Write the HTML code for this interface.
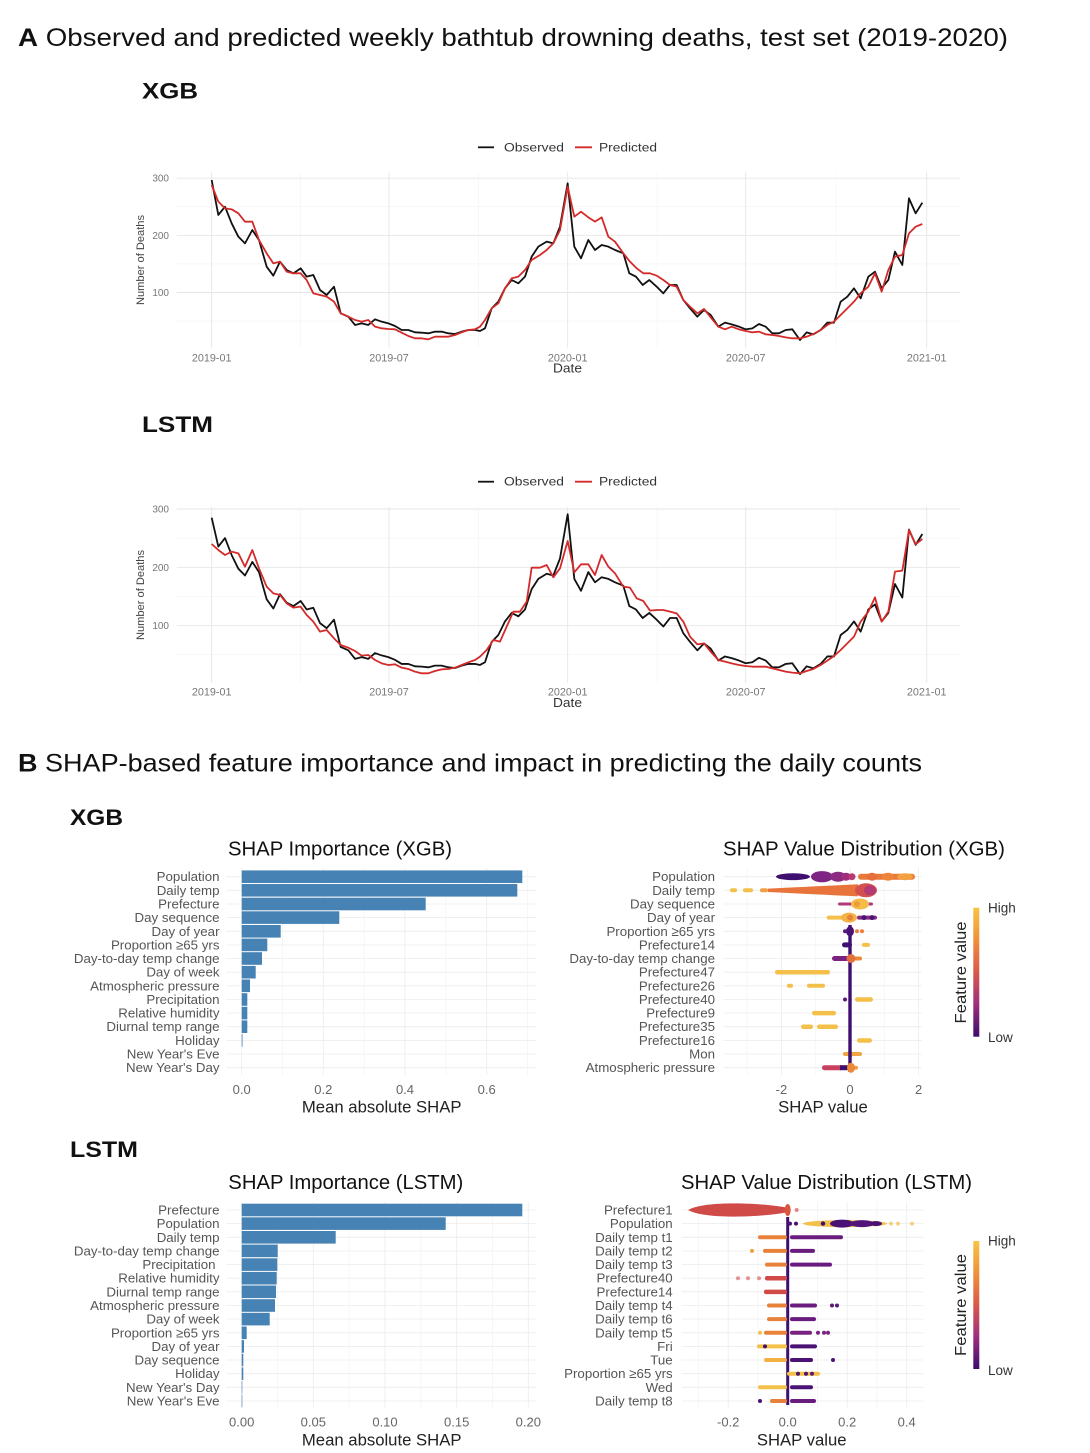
<!DOCTYPE html>
<html><head><meta charset="utf-8"><style>
html,body{margin:0;padding:0;background:#fff;}
svg{display:block;}
text{font-family:"Liberation Sans",Arial,sans-serif;}
</style></head><body>
<svg width="1090" height="1453" viewBox="0 0 1090 1453" xmlns="http://www.w3.org/2000/svg">
<defs>
<linearGradient id="cb" x1="0" y1="0" x2="0" y2="1">
<stop offset="0" stop-color="#f6c445"/><stop offset="0.25" stop-color="#f0903a"/><stop offset="0.5" stop-color="#d9594c"/><stop offset="0.75" stop-color="#9c2f7e"/><stop offset="1" stop-color="#3c0c6c"/>
</linearGradient>
</defs>
<rect width="1090" height="1453" fill="#fff"/>

<!-- ============ PART A ============ -->
<text x="18" y="46" font-size="25" fill="#111" textLength="990" lengthAdjust="spacingAndGlyphs"><tspan font-weight="bold">A</tspan> Observed and predicted weekly bathtub drowning deaths, test set (2019-2020)</text>
<text x="142" y="98.3" font-size="22" font-weight="bold" fill="#111" textLength="56" lengthAdjust="spacingAndGlyphs">XGB</text>

<!-- XGB chart grid -->
<g stroke="#f3f3f3" stroke-width="0.6">
<line x1="176.7" y1="206.8" x2="960" y2="206.8"/><line x1="176.7" y1="263.9" x2="960" y2="263.9"/><line x1="176.7" y1="321.1" x2="960" y2="321.1"/>
<line x1="300.3" y1="171.7" x2="300.3" y2="348.3"/><line x1="478.3" y1="171.7" x2="478.3" y2="348.3"/><line x1="657" y1="171.7" x2="657" y2="348.3"/><line x1="836" y1="171.7" x2="836" y2="348.3"/>
</g>
<g stroke="#e6e6e6" stroke-width="0.9">
<line x1="176.7" y1="178.2" x2="960" y2="178.2"/><line x1="176.7" y1="235.3" x2="960" y2="235.3"/><line x1="176.7" y1="292.5" x2="960" y2="292.5"/>
<line x1="211.7" y1="171.7" x2="211.7" y2="348.3"/><line x1="389" y1="171.7" x2="389" y2="348.3"/><line x1="567.7" y1="171.7" x2="567.7" y2="348.3"/><line x1="745.7" y1="171.7" x2="745.7" y2="348.3"/><line x1="926.7" y1="171.7" x2="926.7" y2="348.3"/>
</g>
<g font-size="10" fill="#777" text-anchor="end">
<text x="169" y="181.7">300</text><text x="169" y="238.8">200</text><text x="169" y="296">100</text>
</g>
<g font-size="10.8" fill="#777" text-anchor="middle">
<text x="211.7" y="361.5">2019-01</text><text x="389" y="361.5">2019-07</text><text x="567.7" y="361.5">2020-01</text><text x="745.7" y="361.5">2020-07</text><text x="926.7" y="361.5">2021-01</text>
</g>
<text x="553" y="372.5" font-size="12.5" fill="#333" textLength="29" lengthAdjust="spacingAndGlyphs">Date</text>
<text transform="translate(144,260) rotate(-90)" text-anchor="middle" font-size="11.1" fill="#444">Number of Deaths</text>
<!-- legend -->
<line x1="478" y1="147.3" x2="494" y2="147.3" stroke="#111" stroke-width="1.8"/>
<text x="504" y="151.3" font-size="11.5" fill="#333" textLength="60" lengthAdjust="spacingAndGlyphs">Observed</text>
<line x1="575" y1="147.3" x2="592" y2="147.3" stroke="#d42a2a" stroke-width="1.8"/>
<text x="599" y="151.3" font-size="11.5" fill="#333" textLength="58" lengthAdjust="spacingAndGlyphs">Predicted</text>

<g transform="translate(130,130) scale(0.33333)" fill="none" stroke-linejoin="round">
<polyline vector-effect="non-scaling-stroke" stroke="#111" stroke-width="1.8" points="245,150 265,255 285,230 305,280 325,320 345,340 367,300 387,330 410,410 430,437 450,395 470,420 490,430 512,415 530,440 550,435 570,480 590,495 612,470 632,550 655,560 675,585 695,580 715,585 735,568 755,575 775,580 795,588 815,600 835,600 855,607 875,608 895,610 915,605 935,605 955,610 975,612 995,605 1015,600 1035,600 1050,603 1065,595 1085,535 1105,515 1125,475 1145,450 1165,460 1185,440 1205,380 1225,350 1250,335 1270,340 1290,290 1313,160 1333,350 1353,385 1375,330 1395,360 1415,345 1435,350 1455,360 1480,370 1498,430 1518,440 1538,465 1558,450 1580,470 1600,490 1620,465 1640,465 1660,510 1680,535 1702,560 1722,540 1742,555 1765,590 1785,578 1805,583 1827,590 1847,598 1867,595 1887,582 1907,590 1927,610 1947,610 1967,600 1987,598 2010,630 2030,607 2050,613 2072,600 2092,578 2112,578 2132,515 2152,500 2172,475 2192,505 2215,440 2235,425 2255,475 2275,450 2295,365 2317,405 2337,205 2357,250 2377,218"/>
<polyline vector-effect="non-scaling-stroke" stroke="#d42a2a" stroke-width="1.8" points="245,165 265,215 285,235 305,238 325,250 345,275 367,275 387,330 410,370 430,400 450,395 470,425 490,430 512,430 530,450 550,490 570,495 590,500 612,515 632,550 655,560 675,570 695,575 715,570 735,590 755,595 775,597 795,598 815,608 835,618 855,625 875,625 895,628 915,620 935,620 955,620 975,615 995,607 1015,600 1035,598 1050,590 1065,570 1085,535 1105,520 1125,475 1145,445 1165,440 1185,420 1205,390 1230,375 1250,360 1270,340 1290,300 1313,170 1333,260 1353,245 1375,262 1395,275 1415,262 1435,320 1455,335 1480,370 1500,395 1520,415 1540,430 1560,430 1580,437 1600,450 1620,465 1640,470 1660,510 1680,530 1702,550 1722,537 1742,562 1765,590 1785,598 1805,590 1827,598 1847,603 1867,607 1887,605 1907,613 1927,615 1947,618 1967,622 1987,625 2010,625 2030,620 2050,612 2072,600 2092,585 2112,575 2132,555 2152,535 2172,515 2192,490 2215,470 2235,430 2255,485 2275,420 2295,380 2317,375 2337,310 2357,290 2377,282"/>
</g>

<!-- LSTM chart -->
<text x="142" y="432" font-size="22" font-weight="bold" fill="#111" textLength="71" lengthAdjust="spacingAndGlyphs">LSTM</text>
<g stroke="#f3f3f3" stroke-width="0.6">
<line x1="176.7" y1="538.2" x2="960" y2="538.2"/><line x1="176.7" y1="596.5" x2="960" y2="596.5"/><line x1="176.7" y1="654.8" x2="960" y2="654.8"/>
<line x1="300.3" y1="506.7" x2="300.3" y2="683"/><line x1="478.3" y1="506.7" x2="478.3" y2="683"/><line x1="657" y1="506.7" x2="657" y2="683"/><line x1="836" y1="506.7" x2="836" y2="683"/>
</g>
<g stroke="#e6e6e6" stroke-width="0.9">
<line x1="176.7" y1="509" x2="960" y2="509"/><line x1="176.7" y1="567.3" x2="960" y2="567.3"/><line x1="176.7" y1="625.7" x2="960" y2="625.7"/>
<line x1="211.7" y1="506.7" x2="211.7" y2="683"/><line x1="389" y1="506.7" x2="389" y2="683"/><line x1="567.7" y1="506.7" x2="567.7" y2="683"/><line x1="745.7" y1="506.7" x2="745.7" y2="683"/><line x1="926.7" y1="506.7" x2="926.7" y2="683"/>
</g>
<g font-size="10" fill="#777" text-anchor="end">
<text x="169" y="512.5">300</text><text x="169" y="570.8">200</text><text x="169" y="629.2">100</text>
</g>
<g font-size="10.8" fill="#777" text-anchor="middle">
<text x="211.7" y="695.5">2019-01</text><text x="389" y="695.5">2019-07</text><text x="567.7" y="695.5">2020-01</text><text x="745.7" y="695.5">2020-07</text><text x="926.7" y="695.5">2021-01</text>
</g>
<text x="553" y="707" font-size="12.5" fill="#333" textLength="29" lengthAdjust="spacingAndGlyphs">Date</text>
<text transform="translate(144,595) rotate(-90)" text-anchor="middle" font-size="11.1" fill="#444">Number of Deaths</text>
<line x1="478" y1="481.7" x2="494" y2="481.7" stroke="#111" stroke-width="1.8"/>
<text x="504" y="485.7" font-size="11.5" fill="#333" textLength="60" lengthAdjust="spacingAndGlyphs">Observed</text>
<line x1="575" y1="481.7" x2="592" y2="481.7" stroke="#d42a2a" stroke-width="1.8"/>
<text x="599" y="485.7" font-size="11.5" fill="#333" textLength="58" lengthAdjust="spacingAndGlyphs">Predicted</text>

<g transform="translate(130,459.85) scale(0.33333,0.34013)" fill="none" stroke-linejoin="round">
<polyline vector-effect="non-scaling-stroke" stroke="#111" stroke-width="1.8" points="245,170 265,255 285,230 305,280 325,320 345,340 367,300 387,330 410,410 430,437 450,395 470,420 490,430 512,415 530,440 550,435 570,480 590,495 612,470 632,550 655,560 675,585 695,580 715,585 735,568 755,575 775,580 795,588 815,600 835,600 855,607 875,608 895,610 915,605 935,605 955,610 975,612 995,605 1015,600 1035,600 1050,603 1065,595 1085,535 1105,515 1125,475 1145,450 1165,460 1185,440 1205,380 1225,350 1250,335 1270,340 1290,290 1313,160 1333,350 1353,385 1375,330 1395,360 1415,345 1435,350 1455,360 1480,370 1498,430 1518,440 1538,465 1558,450 1580,470 1600,490 1620,465 1640,465 1660,510 1680,535 1702,560 1722,540 1742,555 1765,590 1785,578 1805,583 1827,590 1847,598 1867,595 1887,582 1907,590 1927,610 1947,610 1967,600 1987,598 2010,630 2030,607 2050,613 2072,600 2092,578 2112,578 2132,515 2152,500 2172,475 2192,505 2215,440 2235,425 2255,475 2275,450 2295,365 2317,405 2337,205 2357,250 2377,218"/>
</g>
<g transform="translate(130,465) scale(0.33333)" fill="none" stroke-linejoin="round">
<polyline vector-effect="non-scaling-stroke" stroke="#d42a2a" stroke-width="1.8" points="245,237 265,255 285,270 305,260 325,265 345,305 367,255 387,310 410,365 430,385 450,390 470,415 490,428 512,425 530,450 550,470 570,500 590,495 612,520 632,540 655,548 675,558 695,572 715,570 735,585 755,595 775,600 795,598 815,608 835,612 855,620 875,625 895,625 915,618 935,613 955,612 975,608 995,600 1015,592 1035,585 1050,575 1070,555 1090,525 1110,530 1130,485 1150,440 1170,440 1190,410 1205,308 1230,308 1250,300 1270,337 1290,310 1313,228 1333,322 1353,298 1375,298 1395,330 1415,270 1435,305 1455,325 1480,365 1500,368 1520,400 1540,408 1560,437 1580,435 1600,435 1620,440 1640,445 1660,470 1680,515 1702,538 1722,535 1742,560 1765,585 1785,590 1805,595 1827,600 1847,603 1867,605 1887,605 1907,605 1927,610 1947,615 1967,620 1987,623 2010,625 2030,618 2050,612 2072,600 2092,587 2112,573 2132,555 2152,535 2172,515 2192,470 2215,440 2235,397 2255,470 2275,440 2295,320 2317,317 2337,195 2357,238 2377,222"/>
</g>

<!-- ============ PART B ============ -->
<text x="18" y="771.7" font-size="25" fill="#111" textLength="904" lengthAdjust="spacingAndGlyphs"><tspan font-weight="bold">B</tspan> SHAP-based feature importance and impact in predicting the daily counts</text>
<text x="70" y="825" font-size="22" font-weight="bold" fill="#111" textLength="53" lengthAdjust="spacingAndGlyphs">XGB</text>

<!-- XGB bar chart -->
<text x="228" y="855.5" font-size="20" fill="#111" textLength="224" lengthAdjust="spacingAndGlyphs">SHAP Importance (XGB)</text>
<g stroke="#ececec" stroke-width="0.8">
<line x1="226.7" y1="876.7" x2="536.7" y2="876.7"/><line x1="226.7" y1="890.3" x2="536.7" y2="890.3"/><line x1="226.7" y1="904" x2="536.7" y2="904"/><line x1="226.7" y1="917.6" x2="536.7" y2="917.6"/><line x1="226.7" y1="931.3" x2="536.7" y2="931.3"/><line x1="226.7" y1="944.9" x2="536.7" y2="944.9"/><line x1="226.7" y1="958.5" x2="536.7" y2="958.5"/><line x1="226.7" y1="972.2" x2="536.7" y2="972.2"/><line x1="226.7" y1="985.8" x2="536.7" y2="985.8"/><line x1="226.7" y1="999.5" x2="536.7" y2="999.5"/><line x1="226.7" y1="1013.1" x2="536.7" y2="1013.1"/><line x1="226.7" y1="1026.7" x2="536.7" y2="1026.7"/><line x1="226.7" y1="1040.4" x2="536.7" y2="1040.4"/><line x1="226.7" y1="1054" x2="536.7" y2="1054"/><line x1="226.7" y1="1067.7" x2="536.7" y2="1067.7"/>
<line x1="241.7" y1="868" x2="241.7" y2="1075"/><line x1="282.5" y1="868" x2="282.5" y2="1075" stroke="#f4f4f4"/><line x1="323.3" y1="868" x2="323.3" y2="1075"/><line x1="364.2" y1="868" x2="364.2" y2="1075" stroke="#f4f4f4"/><line x1="405" y1="868" x2="405" y2="1075"/><line x1="445.8" y1="868" x2="445.8" y2="1075" stroke="#f4f4f4"/><line x1="486.7" y1="868" x2="486.7" y2="1075"/><line x1="527.5" y1="868" x2="527.5" y2="1075" stroke="#f4f4f4"/>
</g>
<g fill="#4682b4">
<rect x="241.7" y="870.4" width="280.6" height="12.6"/><rect x="241.7" y="884" width="275.6" height="12.6"/><rect x="241.7" y="897.7" width="184" height="12.6"/><rect x="241.7" y="911.3" width="97.6" height="12.6"/><rect x="241.7" y="925" width="39" height="12.6"/><rect x="241.7" y="938.6" width="25.6" height="12.6"/><rect x="241.7" y="952.2" width="20.3" height="12.6"/><rect x="241.7" y="965.9" width="14" height="12.6"/><rect x="241.7" y="979.5" width="8.3" height="12.6"/><rect x="241.7" y="993.2" width="5.6" height="12.6"/><rect x="241.7" y="1006.8" width="5.6" height="12.6"/><rect x="241.7" y="1020.4" width="5.6" height="12.6"/><rect x="241.7" y="1034.1" width="0.8" height="12.6"/>
</g>
<g font-size="13.3" fill="#555" text-anchor="end">
<text x="219.5" y="881.2">Population</text><text x="219.5" y="894.8">Daily temp</text><text x="219.5" y="908.5">Prefecture</text><text x="219.5" y="922.1">Day sequence</text><text x="219.5" y="935.8">Day of year</text><text x="219.5" y="949.4">Proportion ≥65 yrs</text><text x="219.5" y="963">Day-to-day temp change</text><text x="219.5" y="976.7">Day of week</text><text x="219.5" y="990.3">Atmospheric pressure</text><text x="219.5" y="1004">Precipitation</text><text x="219.5" y="1017.6">Relative humidity</text><text x="219.5" y="1031.2">Diurnal temp range</text><text x="219.5" y="1044.9">Holiday</text><text x="219.5" y="1058.5">New Year's Eve</text><text x="219.5" y="1072.2">New Year's Day</text>
</g>
<g font-size="13" fill="#666" text-anchor="middle">
<text x="241.7" y="1094">0.0</text><text x="323.3" y="1094">0.2</text><text x="405" y="1094">0.4</text><text x="486.7" y="1094">0.6</text>
</g>
<text x="381.7" y="1112.5" font-size="16.7" fill="#222" text-anchor="middle">Mean absolute SHAP</text>

<!-- XGB beeswarm -->
<text x="723" y="855.5" font-size="20" fill="#111" textLength="282" lengthAdjust="spacingAndGlyphs">SHAP Value Distribution (XGB)</text>
<g stroke="#ececec" stroke-width="0.8">
<line x1="723.3" y1="876.7" x2="921.7" y2="876.7"/><line x1="723.3" y1="890.3" x2="921.7" y2="890.3"/><line x1="723.3" y1="904" x2="921.7" y2="904"/><line x1="723.3" y1="917.6" x2="921.7" y2="917.6"/><line x1="723.3" y1="931.3" x2="921.7" y2="931.3"/><line x1="723.3" y1="944.9" x2="921.7" y2="944.9"/><line x1="723.3" y1="958.5" x2="921.7" y2="958.5"/><line x1="723.3" y1="972.2" x2="921.7" y2="972.2"/><line x1="723.3" y1="985.8" x2="921.7" y2="985.8"/><line x1="723.3" y1="999.5" x2="921.7" y2="999.5"/><line x1="723.3" y1="1013.1" x2="921.7" y2="1013.1"/><line x1="723.3" y1="1026.7" x2="921.7" y2="1026.7"/><line x1="723.3" y1="1040.4" x2="921.7" y2="1040.4"/><line x1="723.3" y1="1054" x2="921.7" y2="1054"/><line x1="723.3" y1="1067.7" x2="921.7" y2="1067.7"/>
<line x1="747.1" y1="868" x2="747.1" y2="1075" stroke="#f4f4f4"/><line x1="781.4" y1="868" x2="781.4" y2="1075"/><line x1="815.7" y1="868" x2="815.7" y2="1075" stroke="#f4f4f4"/><line x1="850" y1="868" x2="850" y2="1075"/><line x1="884.3" y1="868" x2="884.3" y2="1075" stroke="#f4f4f4"/><line x1="918.6" y1="868" x2="918.6" y2="1075"/>
</g>
<g font-size="13.3" fill="#555" text-anchor="end">
<text x="715" y="881.2">Population</text><text x="715" y="894.8">Daily temp</text><text x="715" y="908.5">Day sequence</text><text x="715" y="922.1">Day of year</text><text x="715" y="935.8">Proportion ≥65 yrs</text><text x="715" y="949.4">Prefecture14</text><text x="715" y="963">Day-to-day temp change</text><text x="715" y="976.7">Prefecture47</text><text x="715" y="990.3">Prefecture26</text><text x="715" y="1004">Prefecture40</text><text x="715" y="1017.6">Prefecture9</text><text x="715" y="1031.2">Prefecture35</text><text x="715" y="1044.9">Prefecture16</text><text x="715" y="1058.5">Mon</text><text x="715" y="1072.2">Atmospheric pressure</text>
</g>
<g font-size="13" fill="#666" text-anchor="middle">
<text x="781.4" y="1094">-2</text><text x="850" y="1094">0</text><text x="918.6" y="1094">2</text>
</g>
<text x="823" y="1112.5" font-size="16.7" fill="#222" text-anchor="middle">SHAP value</text>

<g>
<rect x="848.3" y="925" width="3.4" height="147" fill="#3f0f70"/>
<!-- row0 Population -->
<ellipse cx="793" cy="876.7" rx="17" ry="3.4" fill="#3f0f70"/>
<ellipse cx="822" cy="876.7" rx="11" ry="5.6" fill="#7e2482"/>
<ellipse cx="838" cy="876.7" rx="8" ry="5" fill="#8a2a80"/>
<ellipse cx="846" cy="876.7" rx="5" ry="4" fill="#a0307c"/>
<circle cx="852" cy="876.7" r="3.5" fill="#b83a74"/>
<rect x="858" y="873.7" width="57" height="6" rx="3" fill="#e8793a"/>
<ellipse cx="872" cy="876.7" rx="5" ry="4" fill="#e5703e"/>
<ellipse cx="888" cy="876.7" rx="6" ry="4" fill="#ec853a"/>
<ellipse cx="905" cy="876.7" rx="8" ry="3.5" fill="#f2a040"/>
<!-- row1 Daily temp -->
<rect x="730" y="888.3" width="7" height="4" rx="2" fill="#f3c14a"/>
<rect x="743" y="888.3" width="10" height="4" rx="2" fill="#f3c14a"/>
<rect x="760" y="888.3" width="8" height="4" rx="2" fill="#f0a040"/>
<path d="M768,888.6 Q820,886 858,884.2 L858,896.4 Q820,894.6 768,892 Z" fill="#e8743c"/>
<ellipse cx="866" cy="890.3" rx="11" ry="7" fill="#d4504f"/>
<ellipse cx="870" cy="890.3" rx="6" ry="5" fill="#b33a72"/>
<!-- row2 Day sequence -->
<rect x="838" y="902.5" width="35" height="3" rx="1.5" fill="#b0387a"/>
<ellipse cx="860" cy="904" rx="9" ry="5.5" fill="#f3bd48"/>
<circle cx="857" cy="904" r="3" fill="#ef9a3e"/>
<!-- row3 Day of year -->
<rect x="826.7" y="915.6" width="24" height="4" rx="2" fill="#f3c14a"/>
<ellipse cx="849" cy="917.6" rx="8" ry="5" fill="#f2b446"/>
<circle cx="850" cy="917.6" r="3" fill="#e8823a"/>
<rect x="857" y="915.6" width="20" height="4" rx="2" fill="#8a2a80"/>
<circle cx="864" cy="917.6" r="2.5" fill="#4a1275"/><circle cx="872" cy="917.6" r="2.5" fill="#4a1275"/>
<!-- row4 Proportion -->
<ellipse cx="850" cy="931.3" rx="4" ry="5" fill="#4a1275"/>
<circle cx="845" cy="931.3" r="2" fill="#5a1a7a"/>
<circle cx="857" cy="931.3" r="2" fill="#ec7f3a"/><circle cx="862" cy="931.3" r="2" fill="#ec7f3a"/>
<!-- row5 Pref14 -->
<rect x="842" y="942.4" width="10" height="5" rx="2.5" fill="#3f0f70"/>
<rect x="862" y="942.9" width="8" height="4" rx="2" fill="#f3c14a"/>
<!-- row6 D2D -->
<rect x="832" y="956" width="18" height="5" rx="2.5" fill="#7a2282"/>
<rect x="850" y="956.5" width="12" height="4" rx="2" fill="#ec8a3a"/>
<circle cx="851" cy="958.5" r="4.5" fill="#e4703e"/>
<!-- row7..12 prefectures -->
<rect x="775" y="970" width="55" height="4.5" rx="2.2" fill="#f3c14a"/>
<rect x="787" y="983.8" width="6" height="4" rx="2" fill="#f3c14a"/>
<rect x="807" y="983.8" width="18" height="4" rx="2" fill="#f3c14a"/>
<circle cx="845" cy="999.5" r="2" fill="#5a1a7a"/>
<rect x="855" y="997.2" width="18" height="4.5" rx="2.2" fill="#f3c14a"/>
<rect x="812" y="1010.9" width="24" height="4.5" rx="2.2" fill="#f3c14a"/>
<rect x="801" y="1024.5" width="12" height="4.5" rx="2.2" fill="#f3c14a"/>
<rect x="817" y="1024.5" width="21" height="4.5" rx="2.2" fill="#f3c14a"/>
<rect x="857" y="1038.2" width="15" height="4.5" rx="2.2" fill="#f3c14a"/>
<!-- row13 Mon -->
<rect x="843" y="1052" width="19" height="4" rx="2" fill="#f0a444"/>
<rect x="848.3" y="1051" width="3.4" height="6" fill="#3f0f70"/>
<!-- row14 Atmo -->
<rect x="822" y="1065.2" width="21" height="5" rx="2.5" fill="#c8405e"/>
<rect x="840" y="1065.2" width="10" height="5" fill="#3f0f70"/>
<rect x="850" y="1065.7" width="8" height="4" rx="2" fill="#eea040"/>
<ellipse cx="851" cy="1067.7" rx="4" ry="5" fill="#ec8a3a"/>
</g>

<!-- colorbar XGB -->
<rect x="973.3" y="907.7" width="6" height="129" fill="url(#cb)"/>
<text x="988" y="912.5" font-size="13.5" fill="#333">High</text>
<text x="988" y="1042" font-size="13.5" fill="#333">Low</text>
<text transform="translate(966,972.5) rotate(-90)" text-anchor="middle" font-size="16" fill="#222" textLength="102" lengthAdjust="spacingAndGlyphs">Feature value</text>

<!-- LSTM section -->
<text x="70" y="1157" font-size="22" font-weight="bold" fill="#111" textLength="68" lengthAdjust="spacingAndGlyphs">LSTM</text>
<text x="228.3" y="1189" font-size="20" fill="#111" textLength="235" lengthAdjust="spacingAndGlyphs">SHAP Importance (LSTM)</text>
<g stroke="#ececec" stroke-width="0.8">
<line x1="226.7" y1="1210" x2="536.7" y2="1210"/><line x1="226.7" y1="1223.6" x2="536.7" y2="1223.6"/><line x1="226.7" y1="1237.3" x2="536.7" y2="1237.3"/><line x1="226.7" y1="1250.9" x2="536.7" y2="1250.9"/><line x1="226.7" y1="1264.6" x2="536.7" y2="1264.6"/><line x1="226.7" y1="1278.2" x2="536.7" y2="1278.2"/><line x1="226.7" y1="1291.8" x2="536.7" y2="1291.8"/><line x1="226.7" y1="1305.5" x2="536.7" y2="1305.5"/><line x1="226.7" y1="1319.1" x2="536.7" y2="1319.1"/><line x1="226.7" y1="1332.8" x2="536.7" y2="1332.8"/><line x1="226.7" y1="1346.4" x2="536.7" y2="1346.4"/><line x1="226.7" y1="1360" x2="536.7" y2="1360"/><line x1="226.7" y1="1373.7" x2="536.7" y2="1373.7"/><line x1="226.7" y1="1387.3" x2="536.7" y2="1387.3"/><line x1="226.7" y1="1401" x2="536.7" y2="1401"/>
<line x1="241.7" y1="1201.7" x2="241.7" y2="1408"/><line x1="277.5" y1="1201.7" x2="277.5" y2="1408" stroke="#f4f4f4"/><line x1="313.3" y1="1201.7" x2="313.3" y2="1408"/><line x1="349.2" y1="1201.7" x2="349.2" y2="1408" stroke="#f4f4f4"/><line x1="385" y1="1201.7" x2="385" y2="1408"/><line x1="420.8" y1="1201.7" x2="420.8" y2="1408" stroke="#f4f4f4"/><line x1="456.7" y1="1201.7" x2="456.7" y2="1408"/><line x1="492.5" y1="1201.7" x2="492.5" y2="1408" stroke="#f4f4f4"/><line x1="528.3" y1="1201.7" x2="528.3" y2="1408"/>
</g>
<g fill="#4682b4">
<rect x="241.7" y="1203.7" width="280.6" height="12.6"/><rect x="241.7" y="1217.3" width="204" height="12.6"/><rect x="241.7" y="1231" width="94" height="12.6"/><rect x="241.7" y="1244.6" width="36" height="12.6"/><rect x="241.7" y="1258.3" width="35.6" height="12.6"/><rect x="241.7" y="1271.9" width="35" height="12.6"/><rect x="241.7" y="1285.5" width="34.3" height="12.6"/><rect x="241.7" y="1299.2" width="33.3" height="12.6"/><rect x="241.7" y="1312.8" width="28" height="12.6"/><rect x="241.7" y="1326.5" width="5" height="12.6"/><rect x="241.7" y="1340.1" width="2.3" height="12.6"/><rect x="241.7" y="1353.7" width="1.6" height="12.6"/><rect x="241.7" y="1367.4" width="1.6" height="12.6"/><rect x="241.7" y="1381" width="0.6" height="12.6"/><rect x="241.7" y="1394.7" width="0.6" height="12.6"/>
</g>
<g font-size="13.3" fill="#555" text-anchor="end">
<text x="219.5" y="1214.5">Prefecture</text><text x="219.5" y="1228.1">Population</text><text x="219.5" y="1241.8">Daily temp</text><text x="219.5" y="1255.4">Day-to-day temp change</text><text x="215.5" y="1269.1">Precipitation</text><text x="219.5" y="1282.7">Relative humidity</text><text x="219.5" y="1296.3">Diurnal temp range</text><text x="219.5" y="1310">Atmospheric pressure</text><text x="219.5" y="1323.6">Day of week</text><text x="219.5" y="1337.3">Proportion ≥65 yrs</text><text x="219.5" y="1350.9">Day of year</text><text x="219.5" y="1364.5">Day sequence</text><text x="219.5" y="1378.2">Holiday</text><text x="219.5" y="1391.8">New Year's Day</text><text x="219.5" y="1405.5">New Year's Eve</text>
</g>
<g font-size="13" fill="#666" text-anchor="middle">
<text x="241.7" y="1426.5">0.00</text><text x="313.3" y="1426.5">0.05</text><text x="385" y="1426.5">0.10</text><text x="456.7" y="1426.5">0.15</text><text x="528.3" y="1426.5">0.20</text>
</g>
<text x="381.7" y="1445.5" font-size="16.7" fill="#222" text-anchor="middle">Mean absolute SHAP</text>

<!-- LSTM beeswarm -->
<text x="681" y="1189" font-size="20" fill="#111" textLength="291" lengthAdjust="spacingAndGlyphs">SHAP Value Distribution (LSTM)</text>
<g stroke="#ececec" stroke-width="0.8">
<line x1="681.7" y1="1210" x2="923.3" y2="1210"/><line x1="681.7" y1="1223.6" x2="923.3" y2="1223.6"/><line x1="681.7" y1="1237.3" x2="923.3" y2="1237.3"/><line x1="681.7" y1="1250.9" x2="923.3" y2="1250.9"/><line x1="681.7" y1="1264.6" x2="923.3" y2="1264.6"/><line x1="681.7" y1="1278.2" x2="923.3" y2="1278.2"/><line x1="681.7" y1="1291.8" x2="923.3" y2="1291.8"/><line x1="681.7" y1="1305.5" x2="923.3" y2="1305.5"/><line x1="681.7" y1="1319.1" x2="923.3" y2="1319.1"/><line x1="681.7" y1="1332.8" x2="923.3" y2="1332.8"/><line x1="681.7" y1="1346.4" x2="923.3" y2="1346.4"/><line x1="681.7" y1="1360" x2="923.3" y2="1360"/><line x1="681.7" y1="1373.7" x2="923.3" y2="1373.7"/><line x1="681.7" y1="1387.3" x2="923.3" y2="1387.3"/><line x1="681.7" y1="1401" x2="923.3" y2="1401"/>
<line x1="698.4" y1="1201.7" x2="698.4" y2="1408" stroke="#f4f4f4"/><line x1="728.2" y1="1201.7" x2="728.2" y2="1408"/><line x1="757.9" y1="1201.7" x2="757.9" y2="1408" stroke="#f4f4f4"/><line x1="787.7" y1="1201.7" x2="787.7" y2="1408"/><line x1="817.5" y1="1201.7" x2="817.5" y2="1408" stroke="#f4f4f4"/><line x1="847.2" y1="1201.7" x2="847.2" y2="1408"/><line x1="877" y1="1201.7" x2="877" y2="1408" stroke="#f4f4f4"/><line x1="906.7" y1="1201.7" x2="906.7" y2="1408"/>
</g>
<g font-size="13.3" fill="#555" text-anchor="end">
<text x="672.7" y="1214.5">Prefecture1</text><text x="672.7" y="1228.1">Population</text><text x="672.7" y="1241.8">Daily temp t1</text><text x="672.7" y="1255.4">Daily temp t2</text><text x="672.7" y="1269.1">Daily temp t3</text><text x="672.7" y="1282.7">Prefecture40</text><text x="672.7" y="1296.3">Prefecture14</text><text x="672.7" y="1310">Daily temp t4</text><text x="672.7" y="1323.6">Daily temp t6</text><text x="672.7" y="1337.3">Daily temp t5</text><text x="672.7" y="1350.9">Fri</text><text x="672.7" y="1364.5">Tue</text><text x="672.7" y="1378.2">Proportion ≥65 yrs</text><text x="672.7" y="1391.8">Wed</text><text x="672.7" y="1405.5">Daily temp t8</text>
</g>
<g font-size="13" fill="#666" text-anchor="middle">
<text x="728.2" y="1426.5">-0.2</text><text x="787.7" y="1426.5">0.0</text><text x="847.2" y="1426.5">0.2</text><text x="906.7" y="1426.5">0.4</text>
</g>
<text x="801.7" y="1445.5" font-size="16.7" fill="#222" text-anchor="middle">SHAP value</text>

<g>
<rect x="786.2" y="1217" width="3" height="188" fill="#3f0f70"/>
<!-- row0 Prefecture1 -->
<path d="M688,1210 C697,1205 715,1203.4 735,1203.4 C758,1203.6 775,1205.5 786,1207.5 L786,1212.5 C775,1214.5 758,1216.4 735,1216.6 C715,1216.6 697,1215 688,1210 Z" fill="#d04a48"/>
<ellipse cx="787.7" cy="1210" rx="3" ry="6" fill="#d9553f"/>
<circle cx="796.7" cy="1210" r="2" fill="#d86060" opacity="0.75"/>
<!-- row1 Population -->
<circle cx="790" cy="1223.6" r="2" fill="#4a1275"/><circle cx="796" cy="1223.6" r="2" fill="#4a1275"/>
<ellipse cx="845" cy="1223.6" rx="42" ry="3.5" fill="#f3c14a"/>
<circle cx="823" cy="1223.6" r="2.2" fill="#3f0f70"/>
<ellipse cx="842" cy="1223.6" rx="12" ry="4" fill="#4a1275"/>
<ellipse cx="862" cy="1223.6" rx="12" ry="3.5" fill="#52167a"/>
<ellipse cx="876" cy="1223.6" rx="6" ry="2.5" fill="#4a1275"/>
<circle cx="891" cy="1223.6" r="2" fill="#f3c14a" opacity="0.7"/><circle cx="898" cy="1223.6" r="2" fill="#f3c14a" opacity="0.7"/><circle cx="912" cy="1223.6" r="2" fill="#f3c14a" opacity="0.7"/>
<!-- row2 t1 -->
<rect x="758" y="1235.3" width="29" height="4" rx="2" fill="#e8823a"/>
<rect x="790" y="1235.3" width="53" height="4" rx="2" fill="#6a1b7e"/>
<!-- row3 t2 -->
<circle cx="752" cy="1250.9" r="2" fill="#f0a040"/>
<rect x="763" y="1248.9" width="24" height="4" rx="2" fill="#e8823a"/>
<rect x="790" y="1248.9" width="25" height="4" rx="2" fill="#6a1b7e"/>
<!-- row4 t3 -->
<rect x="765" y="1262.6" width="22" height="4" rx="2" fill="#e8823a"/>
<rect x="790" y="1262.6" width="42" height="4" rx="2" fill="#6a1b7e"/>
<!-- row5 Pref40 -->
<circle cx="738" cy="1278.2" r="2" fill="#d86a6a" opacity="0.7"/><circle cx="748" cy="1278.2" r="2" fill="#d86a6a" opacity="0.7"/><circle cx="759" cy="1278.2" r="2" fill="#d86a6a" opacity="0.7"/>
<rect x="765" y="1276" width="22" height="4.5" rx="2" fill="#d04a48"/>
<!-- row6 Pref14 -->
<rect x="764" y="1289.6" width="23" height="4.5" rx="2" fill="#d04a48"/>
<!-- row7 t4 -->
<rect x="767" y="1303.5" width="20" height="4" rx="2" fill="#e8823a"/>
<rect x="790" y="1303.5" width="27" height="4" rx="2" fill="#6a1b7e"/>
<circle cx="832" cy="1305.5" r="2" fill="#5a1a7a"/><circle cx="837" cy="1305.5" r="2" fill="#5a1a7a"/>
<!-- row8 t6 -->
<rect x="767" y="1317.1" width="20" height="4" rx="2" fill="#e8823a"/>
<rect x="790" y="1317.1" width="26" height="4" rx="2" fill="#6a1b7e"/>
<!-- row9 t5 -->
<circle cx="760" cy="1332.8" r="2" fill="#f3c14a"/>
<rect x="764" y="1330.8" width="23" height="4" rx="2" fill="#e8823a"/>
<rect x="790" y="1330.8" width="22" height="4" rx="2" fill="#7a2282"/>
<circle cx="818" cy="1332.8" r="2" fill="#7a2282"/><circle cx="824" cy="1332.8" r="2" fill="#7a2282"/><circle cx="828" cy="1332.8" r="2" fill="#7a2282"/>
<!-- row10 Fri -->
<rect x="757" y="1344.4" width="30" height="4" rx="2" fill="#f3c14a"/>
<circle cx="765" cy="1346.4" r="2" fill="#3f0f70"/>
<rect x="790" y="1344.4" width="27" height="4" rx="2" fill="#4a1275"/>
<!-- row11 Tue -->
<rect x="764" y="1358" width="23" height="4" rx="2" fill="#f3b045"/>
<rect x="790" y="1358" width="23" height="4" rx="2" fill="#4a1275"/>
<circle cx="833" cy="1360" r="2" fill="#4a1275"/>
<!-- row12 Proportion -->
<rect x="787" y="1371.7" width="33" height="4" rx="2" fill="#f3c14a"/>
<circle cx="798" cy="1373.7" r="2" fill="#4a1275"/><circle cx="806" cy="1373.7" r="2" fill="#4a1275"/><circle cx="812" cy="1373.7" r="2" fill="#5a1a7a"/>
<!-- row13 Wed -->
<rect x="758" y="1385.3" width="29" height="4" rx="2" fill="#f3c14a"/>
<rect x="790" y="1385.3" width="23" height="4" rx="2" fill="#4a1275"/>
<!-- row14 t8 -->
<circle cx="760" cy="1401" r="2" fill="#4a1275"/>
<rect x="770" y="1399" width="17" height="4" rx="2" fill="#e8823a"/>
<rect x="790" y="1399" width="26" height="4" rx="2" fill="#6a1b7e"/>
</g>

<!-- colorbar LSTM -->
<rect x="973.3" y="1241" width="6" height="128" fill="url(#cb)"/>
<text x="988" y="1245.5" font-size="13.5" fill="#333">High</text>
<text x="988" y="1375" font-size="13.5" fill="#333">Low</text>
<text transform="translate(966,1305) rotate(-90)" text-anchor="middle" font-size="16" fill="#222" textLength="102" lengthAdjust="spacingAndGlyphs">Feature value</text>
</svg>
</body></html>
